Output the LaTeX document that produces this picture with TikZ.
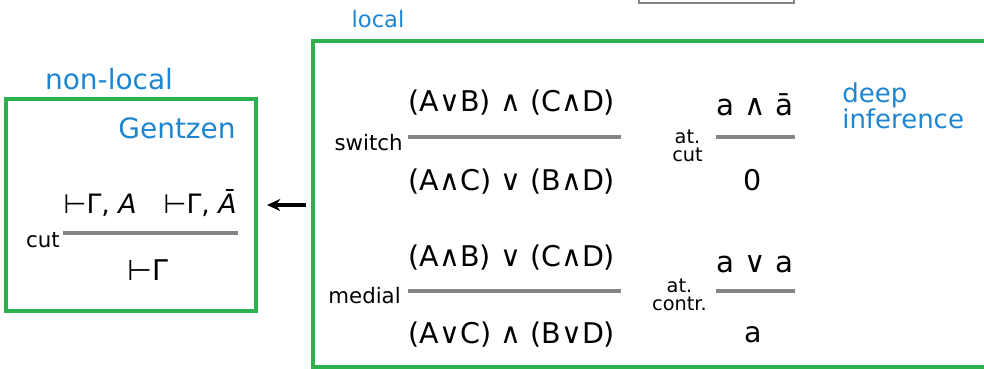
\documentclass[tikz,border=0pt]{standalone}
\usepackage{fontspec}
\setmainfont{DejaVu Sans}
\usetikzlibrary{fit,arrows.meta}
\definecolor{boxgreen}{HTML}{2DB04F}
\definecolor{labblue}{HTML}{1E86D0}
\definecolor{rulegray}{HTML}{858585}
\tikzset{
  greenbox/.style={draw=boxgreen, line width=2.4pt, inner sep=0pt},
  graybox/.style={draw=rulegray, line width=2.2pt, inner sep=0pt},
  bluelab/.style={text=labblue, font=\fontsize{21}{22}\selectfont, inner sep=0pt},
  formula/.style={font=\fontsize{21.4}{22}\selectfont, inner sep=0pt},
  rulename/.style={font=\fontsize{16}{16}\selectfont, inner sep=0pt, anchor=east, align=right},
  atname/.style={font=\fontsize{14.5}{14}\selectfont, inner sep=0pt, anchor=east, align=center},
  infline/.style={draw=rulegray, line width=2.8pt},
  arr/.style={-{Stealth[length=10pt,width=9pt]}, line width=2.4pt}
}
\begin{document}
\begin{tikzpicture}[x=0.75pt,y=-0.75pt]
\useasboundingbox (0,0) rectangle (984,368);
% boxes
\node[greenbox, fit={(6,99) (256,311)}] (left) {};
\node[greenbox, fit={(313,41) (1000,367)}] (right) {};
\node[graybox, fit={(639,-20) (794,3)}] (top) {};
% blue labels
\node[bluelab] (nonlocal) at (109,79) {non-local};
\node[bluelab] (gentzen) at (177,128) {Gentzen};
\node[bluelab, font=\fontsize{17}{18}\selectfont] (local) at (378,19) {local};
\node[bluelab, anchor=west, align=left, font=\fontsize{19.5}{17}\selectfont] (deep) at (842,106) {deep\\inference};
% arrow
\draw[arr, shorten <=4pt, shorten >=7pt] (right.west |- left.east) -- (left.east);
% cut rule
\node[formula, font=\fontsize{20}{22}\selectfont] (cutnum) at (150,203) {⊢Γ, \textit{A}\quad ⊢Γ, \textit{Ā}};
\coordinate (cutl) at (63,233);
\coordinate (cutr) at (238,233);
\draw[infline] (cutl) -- (cutr);
\node[rulename] (cutlab) at (60,240) {cut};
\node[formula] (cutden) at (148,270) {⊢Γ};
% switch
\node[formula] (swnum) at (512,103) {(A∨B) ∧ (C∧D)};
\coordinate (swl) at (408,137);
\coordinate (swr) at (621,137);
\draw[infline] (swl) -- (swr);
\node[rulename] (swlab) at (403,143) {switch};
\node[formula] (swden) at (512,182) {(A∧C) ∨ (B∧D)};
% medial
\node[formula] (mednum) at (512,258) {(A∧B) ∨ (C∧D)};
\coordinate (medl) at (408,291);
\coordinate (medr) at (621,291);
\draw[infline] (medl) -- (medr);
\node[rulename] (medlab) at (401,296) {medial};
\node[formula] (medden) at (512,335) {(A∨C) ∧ (B∨D)};
% atomic cut
\node[formula, font=\fontsize{22}{22}\selectfont] (acnum) at (755,105) {a ∧ ā};
\coordinate (acl) at (716,137);
\coordinate (acr) at (795,137);
\draw[infline] (acl) -- (acr);
\node[atname] (aclab) at (703,146) {at.\\cut};
\node[formula] (acden) at (753,180) {0};
% atomic contraction
\node[formula, font=\fontsize{22}{22}\selectfont] (acoNum) at (755,264) {a ∨ a};
\coordinate (acol) at (716,291);
\coordinate (acor) at (795,291);
\draw[infline] (acol) -- (acor);
\node[atname] (acolab) at (707,295) {at.\\contr.};
\node[formula] (acoden) at (753,335) {a};
\end{tikzpicture}
\end{document}
